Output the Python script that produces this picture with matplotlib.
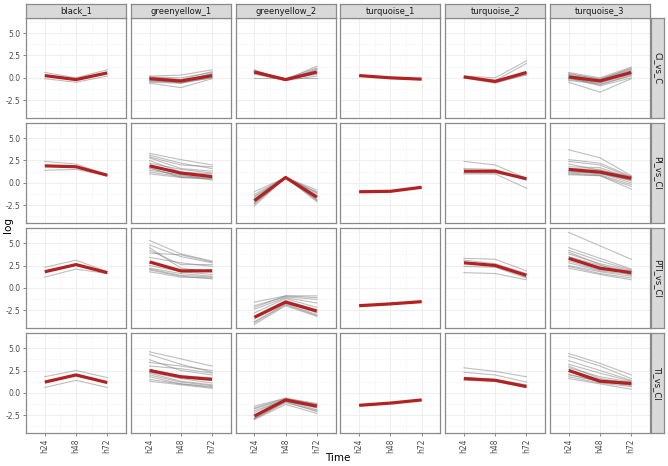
import matplotlib
matplotlib.use('Agg')
import matplotlib.pyplot as plt
from matplotlib.ticker import MultipleLocator

## data
modules = ['black_1', 'greenyellow_1', 'greenyellow_2', 'turquoise_1', 'turquoise_2', 'turquoise_3']
contrasts = ['CI_vs_C', 'PI_vs_CI', 'PTI_vs_CI', 'TI_vs_CI']
times = ['h24', 'h48', 'h72']

# individual genes (grey lines), per module and contrast: h24, h48, h72
black_1 = {
    'CI_vs_C': [[0.6, 0.0, 0.9], [-0.1, -0.5, 0.2]],
    'PI_vs_CI': [[2.4, 2.1, 0.9], [1.4, 1.5, 0.8]],
    'PTI_vs_CI': [[2.3, 3.1, 1.8], [1.2, 2.1, 1.6]],
    'TI_vs_CI': [[1.8, 2.5, 1.7], [0.6, 1.4, 0.6]],
}
greenyellow_1 = {
    'CI_vs_C': [[0.2, 0.3, 0.9], [0.1, -0.2, 0.7], [-0.1, -0.4, 0.5], [-0.3, -0.5, 0.3],
                [-0.6, -1.1, -0.1], [0.0, -0.3, 0.4], [-0.2, -0.6, 0.1], [-0.4, -0.5, 0.0],
                [0.1, 0.0, 0.6], [-0.1, -0.3, 0.2], [-0.5, -0.6, 0.0], [0.0, -0.4, 0.3]],
    'PI_vs_CI': [[3.3, 2.6, 2.0], [3.1, 2.2, 1.6], [2.8, 1.6, 1.3], [2.5, 1.2, 1.0],
                 [1.2, 0.7, 0.5], [1.0, 0.6, 0.4], [1.6, 0.8, 0.6], [1.9, 1.0, 0.7],
                 [2.9, 2.0, 1.8], [1.4, 0.9, 0.3], [2.2, 1.5, 1.1], [1.7, 0.6, 0.5]],
    'PTI_vs_CI': [[5.3, 3.8, 3.0], [4.8, 3.5, 2.8], [4.2, 2.6, 2.6], [3.9, 3.7, 2.9],
                  [2.0, 1.3, 1.0], [1.8, 1.2, 1.1], [2.2, 1.6, 1.3], [2.5, 1.8, 1.5],
                  [3.4, 2.8, 2.4], [2.1, 1.4, 1.2], [4.5, 2.2, 1.8], [2.8, 1.9, 2.0]],
    'TI_vs_CI': [[4.6, 3.8, 3.0], [4.3, 3.2, 2.3], [3.7, 2.5, 2.0], [3.4, 3.0, 2.5],
                 [1.5, 1.0, 0.6], [1.3, 0.9, 0.5], [2.0, 1.2, 0.8], [2.3, 1.6, 1.1],
                 [3.0, 2.7, 2.2], [1.8, 1.0, 0.7], [2.6, 1.9, 1.7], [2.2, 1.3, 0.9]],
}
greenyellow_2 = {
    'CI_vs_C': [[0.8, -0.2, 1.3], [0.7, -0.1, 1.1], [0.6, -0.2, 0.9], [0.8, -0.3, 0.7],
                [0.5, -0.2, 0.5], [0.7, -0.1, 0.6], [0.0, 0.0, 0.0], [0.9, -0.3, 1.0],
                [0.6, -0.2, 0.4], [0.4, -0.3, 0.2]],
    'PI_vs_CI': [[-2.6, 0.6, -2.1], [-2.3, 0.6, -1.9], [-1.0, 0.6, -0.8], [-1.3, 0.6, -1.1],
                 [-1.6, 0.6, -1.4], [-2.2, 0.6, -1.8], [-1.8, 0.6, -1.2], [-2.4, 0.6, -2.0],
                 [-1.5, 0.6, -1.0], [-2.0, 0.6, -1.6]],
    'PTI_vs_CI': [[-4.1, -2.0, -3.2], [-3.8, -1.8, -3.0], [-1.6, -0.9, -0.9], [-2.0, -1.0, -1.3],
                  [-2.4, -1.1, -1.7], [-3.5, -1.6, -2.8], [-2.8, -1.2, -2.2], [-3.9, -1.9, -3.1],
                  [-2.2, -0.9, -1.1], [-3.2, -1.4, -2.5]],
    'TI_vs_CI': [[-3.0, -1.3, -2.3], [-2.9, -1.0, -2.1], [-1.5, -0.6, -1.2], [-1.8, -0.7, -1.3],
                 [-2.0, -0.8, -1.4], [-2.8, -0.9, -1.9], [-2.2, -0.7, -1.6], [-2.9, -1.1, -2.0],
                 [-1.7, -0.6, -1.3], [-2.5, -0.9, -1.7]],
}
turquoise_1 = {
    'CI_vs_C': [[0.25, 0.0, -0.15]],
    'PI_vs_CI': [[-1.0, -0.95, -0.5]],
    'PTI_vs_CI': [[-2.0, -1.8, -1.55]],
    'TI_vs_CI': [[-1.4, -1.15, -0.8]],
}
turquoise_2 = {
    'CI_vs_C': [[0.2, 0.0, 1.9], [0.1, -0.3, 1.6], [0.0, -0.6, 0.4], [0.1, -0.5, 0.3], [0.0, -0.4, 0.6]],
    'PI_vs_CI': [[2.4, 2.0, 0.5], [1.6, 1.5, 0.3], [1.0, 1.0, -0.6], [1.4, 1.2, 0.5], [1.1, 1.1, 0.5]],
    'PTI_vs_CI': [[3.3, 3.2, 1.9], [3.1, 2.7, 1.6], [1.7, 1.6, 0.9], [2.4, 2.3, 1.1], [2.9, 2.5, 1.2]],
    'TI_vs_CI': [[2.8, 2.4, 1.8], [2.3, 2.0, 1.2], [1.4, 1.3, 0.6], [1.5, 1.4, 0.8], [1.7, 1.5, 0.9]],
}
turquoise_3 = {
    'CI_vs_C': [[0.6, 0.0, 1.2], [0.4, -0.1, 1.0], [0.3, -0.2, 0.9], [0.2, -0.3, 0.8],
                [0.0, -0.4, 0.6], [-0.1, -0.5, 0.5], [-0.2, -0.6, 0.4], [-0.5, -1.6, -0.1],
                [0.1, -0.8, 0.3], [-0.3, -0.7, 0.2], [0.5, -0.2, 1.1], [0.0, -0.9, 0.0]],
    'PI_vs_CI': [[3.7, 2.8, 0.8], [2.6, 2.2, 0.7], [2.4, 2.0, 0.6], [1.8, 1.7, 0.5],
                 [1.6, 1.5, 0.4], [1.3, 1.0, 0.3], [1.1, 0.9, -0.2], [0.9, 0.8, -0.7],
                 [1.0, 0.8, -0.4], [2.1, 1.4, 0.7], [1.4, 1.2, 0.2], [1.2, 1.1, 0.0]],
    'PTI_vs_CI': [[6.2, 4.7, 3.2], [4.5, 3.3, 2.1], [4.2, 3.0, 2.0], [3.8, 2.7, 1.9],
                  [3.5, 2.5, 1.8], [3.0, 2.0, 1.7], [2.8, 1.9, 1.5], [2.5, 1.8, 1.3],
                  [2.2, 1.5, 0.9], [2.4, 1.6, 1.1], [3.3, 2.3, 1.6], [4.0, 2.6, 1.4]],
    'TI_vs_CI': [[4.4, 3.3, 2.0], [4.1, 3.0, 1.6], [3.6, 2.5, 1.4], [3.2, 2.2, 1.3],
                 [2.8, 1.8, 1.2], [2.4, 1.4, 1.0], [2.1, 1.2, 0.9], [1.8, 1.1, 0.7],
                 [1.6, 1.0, 0.4], [2.0, 1.3, 0.8], [3.0, 1.6, 1.1], [2.6, 1.5, 1.0]],
}

# module mean (red line), rows = contrasts
mean_black_1 = [[0.25, -0.2, 0.55], [1.9, 1.8, 0.85], [1.8, 2.6, 1.7], [1.2, 2.0, 1.15]]
mean_greenyellow_1 = [[-0.1, -0.35, 0.25], [1.9, 1.1, 0.7], [2.9, 1.9, 1.9], [2.5, 1.8, 1.5]]
mean_greenyellow_2 = [[0.65, -0.2, 0.65], [-2.0, 0.6, -1.6], [-3.3, -1.6, -2.6], [-2.6, -0.8, -1.5]]
mean_turquoise_1 = [[0.25, 0.0, -0.15], [-1.0, -0.95, -0.5], [-2.0, -1.8, -1.55], [-1.4, -1.15, -0.8]]
mean_turquoise_2 = [[0.1, -0.4, 0.6], [1.3, 1.3, 0.45], [2.8, 2.5, 1.4], [1.6, 1.4, 0.7]]
mean_turquoise_3 = [[0.1, -0.35, 0.6], [1.5, 1.2, 0.5], [3.3, 2.2, 1.7], [2.5, 1.3, 1.05]]

genes = [black_1, greenyellow_1, greenyellow_2, turquoise_1, turquoise_2, turquoise_3]
means = [mean_black_1, mean_greenyellow_1, mean_greenyellow_2,
         mean_turquoise_1, mean_turquoise_2, mean_turquoise_3]


W, H = 668, 466
fig = plt.figure(figsize=(W / 100, H / 100), dpi=100)

def box(x, y, w, h):
    # pixel box (top-left origin) -> figure fraction
    return [x / W, 1 - (y + h) / H, w / W, h / H]

col_x = [26, 130.8, 235.6, 340.4, 445.2, 550]
row_y = [18, 123, 228, 333]
pw, ph = 100, 100
border = '#8A8A8A'
txtcol = '#4D4D4D'
xs = list(range(len(times)))

for r, contrast in enumerate(contrasts):
    for c, mod in enumerate(modules):
        ax = fig.add_axes(box(col_x[c], row_y[r], pw, ph))
        for g in genes[c][contrast]:
            ax.plot(xs, g, color='#7F7F7F', alpha=0.5, lw=0.8)
        ax.plot(xs, means[c][r], color='#B22222', lw=2.3, solid_capstyle='butt')
        ax.set_xlim(-0.6, 2.6)
        ax.set_ylim(-4.5, 6.7)
        ax.yaxis.set_major_locator(MultipleLocator(2.5))
        ax.yaxis.set_minor_locator(MultipleLocator(1.25))
        ax.set_xticks(xs)
        ax.set_xticks([0.5, 1.5], minor=True)
        ax.grid(True, which='major', color='#EBEBEB', lw=0.6)
        ax.grid(True, which='minor', color='#F3F3F3', lw=0.4)
        ax.set_axisbelow(True)
        for s in ax.spines.values():
            s.set_color(border)
            s.set_linewidth(0.9)
        ax.tick_params(which='minor', length=0)
        ax.tick_params(which='major', length=2.5, width=0.5, color='#555555',
                       labelsize=5.5, labelcolor=txtcol, pad=1.5)
        if c == 0:
            ax.set_yticklabels(['%.1f' % v for v in ax.get_yticks()])
        else:
            ax.tick_params(axis='y', length=0, labelleft=False)
        if r == len(contrasts) - 1:
            ax.set_xticklabels(times, rotation=90)
        else:
            ax.tick_params(axis='x', length=0, labelbottom=False)

        # top strips
        if r == 0:
            sax = fig.add_axes(box(col_x[c], 4, pw, 14))
            sax.set_facecolor('#D9D9D9')
            sax.set_xticks([])
            sax.set_yticks([])
            for s in sax.spines.values():
                s.set_color(border)
                s.set_linewidth(0.9)
            sax.text(0.5, 0.5, mod, ha='center', va='center', fontsize=6, color='#1A1A1A',
                     transform=sax.transAxes)

    # right strips
    sax = fig.add_axes(box(651, row_y[r], 13, ph))
    sax.set_facecolor('#D9D9D9')
    sax.set_xticks([])
    sax.set_yticks([])
    for s in sax.spines.values():
        s.set_color(border)
        s.set_linewidth(0.9)
    sax.text(0.5, 0.5, contrast, ha='center', va='center', fontsize=6, color='#1A1A1A',
             rotation=-90, transform=sax.transAxes)

fig.text(8 / W, 1 - 225 / H, 'log', rotation=90, ha='center', va='center', fontsize=7.5)
fig.text(338 / W, 1 - 458 / H, 'Time', ha='center', va='center', fontsize=7.5)

fig.savefig('out.png', dpi=100, facecolor='white')
